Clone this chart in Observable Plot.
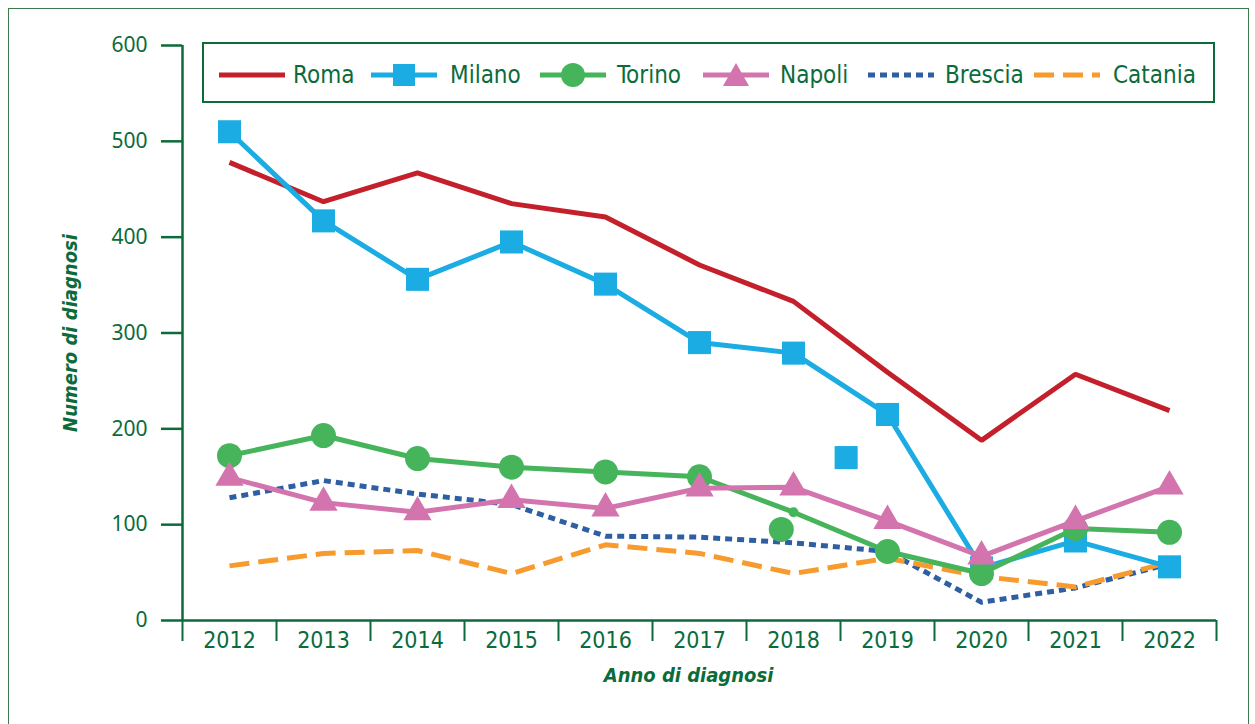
<!DOCTYPE html>
<html><head><meta charset="utf-8">
<script src="https://cdn.jsdelivr.net/npm/d3@7"></script>
<script src="https://cdn.jsdelivr.net/npm/@observablehq/plot@0.6"></script>
<style>
body{margin:0;background:#fff;}
#wrap{position:relative;width:1255px;height:724px;overflow:hidden;background:#fff;}
#frame{position:absolute;left:8px;top:8px;width:1241px;height:760px;border:1.5px solid #3a7a4c;box-sizing:border-box;}
#chart{position:absolute;left:0;top:0;}
#legend{position:absolute;left:202px;top:42px;width:1013px;height:61px;border:2.5px solid #0b6b3a;box-sizing:border-box;}
.sw{position:absolute;top:63px;}
.lt{position:absolute;top:60px;font-family:"Liberation Sans Narrow","DejaVu Sans Condensed",sans-serif;font-stretch:condensed;font-size:24px;line-height:30px;color:#0b6b3a;white-space:nowrap;}
</style></head>
<body>
<div id="wrap">
<div id="frame"></div>
<div id="chart"></div>
<div id="legend"></div>
</div>
<script>
const years = [2012, 2013, 2014, 2015, 2016, 2017, 2018, 2019, 2020, 2021, 2022];
const cities = ["Roma", "Milano", "Torino", "Napoli", "Brescia", "Catania"];
const roma    = [478, 437, 467, 435, 421, 371, 333, 259, 188, 257, 219];
const milano  = [510, 417, 356, 395, 351, 290, 279, 215, 55, 83, 56];
const torino  = [172, 193, 169, 160, 155, 150, 113, 72, 49, 96, 92];
const napoli  = [149, 123, 113, 126, 117, 138, 139, 104, 67, 104, 140];
const brescia = [128, 146, 132, 121, 88, 87, 81, 72, 19, 34, 59];
const catania = [57, 70, 73, 49, 79, 70, 49, 65, 46, 35, 61];
// stray markers visible in the original picture
const milanoExtra = [{year: 2018.56, value: 170}];
const torinoExtra = [{year: 2017.87, value: 95}];
const yTicks = [0, 100, 200, 300, 400, 500, 600];

const colors = {Roma: "#c4202b", Milano: "#1aace2", Torino: "#46b45a", Napoli: "#d374ae", Brescia: "#2e5fa3", Catania: "#f79b2e"};
const green = "#0b6b3a";
const series = {Roma: roma, Milano: milano, Torino: torino, Napoli: napoli, Brescia: brescia, Catania: catania};
const rows = c => years.map((y, i) => ({year: y, value: series[c][i], city: c}));
const bounds = years.map(y => y - 0.5).concat([years[years.length - 1] + 0.5]);
const narrow = "'Liberation Sans Narrow', 'DejaVu Sans Condensed', sans-serif";

const lineOpts = c => ({x: "year", y: "value", stroke: colors[c], strokeWidth: 5, strokeLinejoin: "miter", strokeLinecap: "butt"});
const torinoRows = rows("Torino");

const chart = Plot.plot({
  width: 1255, height: 724,
  marginLeft: 182, marginRight: 39, marginTop: 45, marginBottom: 104,
  x: {domain: [bounds[0], bounds[bounds.length - 1]]},
  y: {domain: [0, 600]},
  style: {background: "transparent", overflow: "visible"},
  marks: [
    Plot.line(rows("Brescia"), {...lineOpts("Brescia"), strokeDasharray: "7,5"}),
    Plot.line(rows("Catania"), {...lineOpts("Catania"), strokeDasharray: "20,9"}),
    Plot.line(rows("Roma"), lineOpts("Roma")),
    Plot.line(rows("Milano"), lineOpts("Milano")),
    Plot.dot(rows("Milano").concat(milanoExtra), {x: "year", y: "value", symbol: "square", r: 13, fill: colors.Milano}),
    Plot.line(torinoRows, lineOpts("Torino")),
    Plot.dot(torinoRows.filter(d => d.year !== 2018).concat(torinoExtra), {x: "year", y: "value", r: 12.5, fill: colors.Torino}),
    Plot.dot(torinoRows.filter(d => d.year === 2018), {x: "year", y: "value", r: 5, fill: colors.Torino}),
    Plot.line(rows("Napoli"), lineOpts("Napoli")),
    Plot.dot(rows("Napoli"), {x: "year", y: "value", symbol: "triangle", r: 10.5, fill: colors.Napoli}),
    Plot.ruleY([0], {stroke: green, strokeWidth: 2.5}),
    Plot.ruleX([bounds[0]], {stroke: green, strokeWidth: 2.5}),
    Plot.axisY(yTicks, {tickSize: 21, tickPadding: 14, stroke: green, strokeWidth: 2.5, color: green, fill: green, fontSize: 21, fontFamily: "'Noto Sans', sans-serif", label: null}),
    Plot.axisX(bounds, {tickSize: 21, tickFormat: () => "", stroke: green, strokeWidth: 2, label: null}),
    Plot.axisX(years, {tickSize: 0, tickPadding: 11, tickFormat: d => String(d), fill: green, fontSize: 23, fontFamily: narrow, label: null}),
    Plot.text(["Numero di diagnosi"], {frameAnchor: "left", textAnchor: "middle", dx: -112, rotate: -90, fill: green, fontSize: 20, fontWeight: "bold", fontStyle: "italic", fontFamily: narrow}),
    Plot.text(["Anno di diagnosi"], {frameAnchor: "bottom", textAnchor: "middle", dx: -11, dy: 61, fill: green, fontSize: 20, fontWeight: "bold", fontStyle: "italic", fontFamily: narrow})
  ]
});
document.getElementById("chart").appendChild(chart);

// legend
const swX = {Roma: 219, Milano: 371, Torino: 540, Napoli: 703, Brescia: 868, Catania: 1034};
const txX = {Roma: 293, Milano: 450, Torino: 617, Napoli: 780, Brescia: 945, Catania: 1113};
const wrap = document.getElementById("wrap");
for (const c of cities) {
  const col = colors[c];
  let dash = "";
  if (c === "Brescia") dash = 'stroke-dasharray="7,5"';
  if (c === "Catania") dash = 'stroke-dasharray="20,9"';
  let marker = "";
  if (c === "Milano") marker = `<rect x="22" y="1" width="22" height="22" fill="${col}"/>`;
  if (c === "Torino") marker = `<circle cx="33" cy="12" r="12" fill="${col}"/>`;
  if (c === "Napoli") marker = `<path d="M33,0 L46,23 L20,23 Z" fill="${col}"/>`;
  const sw = document.createElement("div");
  sw.className = "sw";
  sw.style.left = swX[c] + "px";
  sw.innerHTML = `<svg width="66" height="24"><line x1="0" x2="66" y1="12" y2="12" stroke="${col}" stroke-width="5" ${dash}/>${marker}</svg>`;
  wrap.appendChild(sw);
  const t = document.createElement("div");
  t.className = "lt";
  t.style.left = txX[c] + "px";
  t.textContent = c;
  wrap.appendChild(t);
}
</script>
</body></html>
